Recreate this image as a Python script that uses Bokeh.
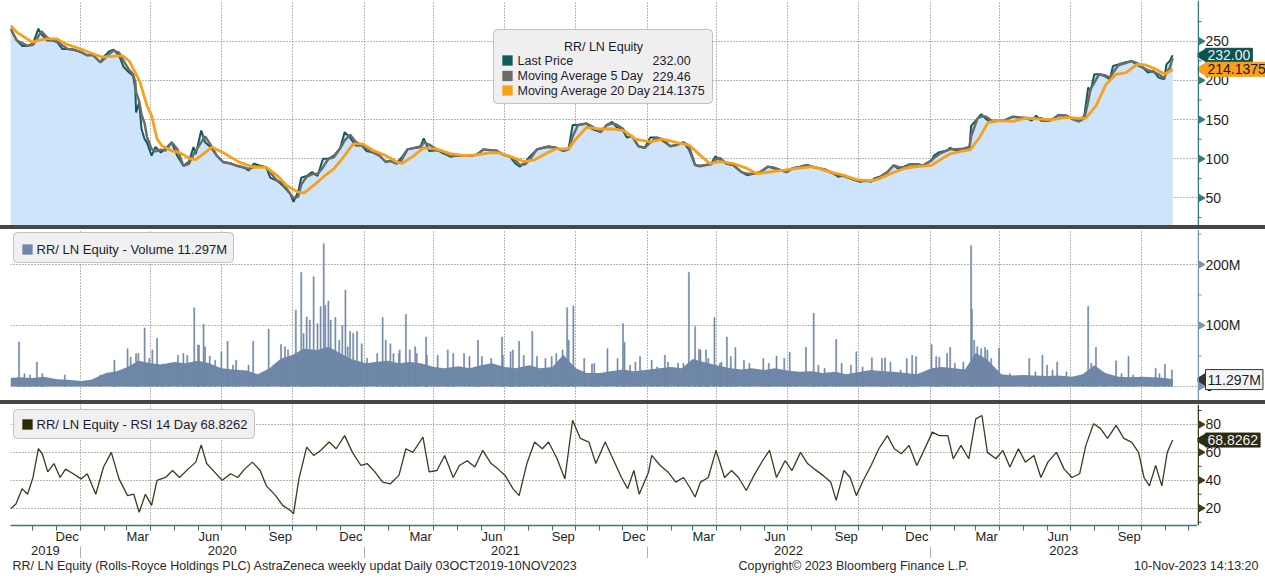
import math
import pandas as pd
from bokeh.plotting import figure
from bokeh.layouts import column, row
from bokeh.models import (Range1d, DatetimeAxis, FixedTicker, DatetimeTickFormatter,
                          BoxAnnotation, Label, Div, Span)
from bokeh.core.properties import value
from bokeh.embed import file_html
from bokeh.resources import INLINE

FONT = "Liberation Sans"

# ---------------- data ----------------
price_dates = (
    ["2019-10-03", "2019-10-11", "2019-10-18", "2019-10-25", "2019-11-01", "2019-11-08", "2019-11-12",
     "2019-11-19", "2019-11-25", "2019-12-02", "2019-12-09", "2019-12-16", "2019-12-23"] +
    ["2020-01-02", "2020-01-10", "2020-01-17", "2020-01-27", "2020-01-31", "2020-02-07", "2020-02-13",
     "2020-02-20", "2020-02-26", "2020-03-04", "2020-03-09", "2020-03-12", "2020-03-13", "2020-03-17",
     "2020-03-20", "2020-03-24", "2020-03-27", "2020-04-02", "2020-04-07", "2020-04-14", "2020-04-20",
     "2020-04-28", "2020-05-05", "2020-05-13", "2020-05-20", "2020-05-26", "2020-05-29", "2020-06-05",
     "2020-06-10", "2020-06-17", "2020-06-25", "2020-07-03", "2020-07-13", "2020-07-21", "2020-07-30",
     "2020-08-05", "2020-08-12", "2020-08-20", "2020-08-28", "2020-09-02", "2020-09-11", "2020-09-18",
     "2020-09-28", "2020-10-02", "2020-10-08", "2020-10-12", "2020-10-19", "2020-10-26", "2020-11-02",
     "2020-11-09", "2020-11-16", "2020-11-23", "2020-12-01", "2020-12-07", "2020-12-14", "2020-12-21",
     "2020-12-29"] +
    ["2021-01-04", "2021-01-13", "2021-01-21", "2021-01-29", "2021-02-04", "2021-02-12", "2021-02-18",
     "2021-02-26", "2021-03-08", "2021-03-15", "2021-03-19", "2021-03-26", "2021-04-06", "2021-04-13",
     "2021-04-22", "2021-04-30", "2021-05-10", "2021-05-18", "2021-05-26", "2021-06-04", "2021-06-14",
     "2021-06-21", "2021-06-30", "2021-07-08", "2021-07-15", "2021-07-21", "2021-07-28", "2021-08-03",
     "2021-08-12", "2021-08-20", "2021-08-27", "2021-09-06", "2021-09-15", "2021-09-22", "2021-09-27",
     "2021-10-04", "2021-10-15", "2021-10-22", "2021-11-02", "2021-11-10", "2021-11-17", "2021-11-23",
     "2021-11-30", "2021-12-06", "2021-12-13", "2021-12-21", "2021-12-29"] +
    ["2022-01-05", "2022-01-14", "2022-01-21", "2022-01-31", "2022-02-09", "2022-02-17", "2022-02-24",
     "2022-03-04", "2022-03-10", "2022-03-18", "2022-03-25", "2022-03-30", "2022-04-05", "2022-04-13",
     "2022-04-22", "2022-05-03", "2022-05-10", "2022-05-18", "2022-05-27", "2022-06-06", "2022-06-13",
     "2022-06-21", "2022-06-30", "2022-07-08", "2022-07-18", "2022-07-26", "2022-08-03", "2022-08-12",
     "2022-08-19", "2022-08-30", "2022-09-05", "2022-09-12", "2022-09-20", "2022-09-26", "2022-10-03",
     "2022-10-10", "2022-10-17", "2022-10-21", "2022-10-28", "2022-11-07", "2022-11-15", "2022-11-21",
     "2022-11-28", "2022-12-06", "2022-12-15", "2022-12-23"] +
    ["2023-01-03", "2023-01-06", "2023-01-13", "2023-01-23", "2023-01-27", "2023-02-03", "2023-02-13",
     "2023-02-21", "2023-02-23", "2023-03-03", "2023-03-08", "2023-03-14", "2023-03-21", "2023-03-29",
     "2023-04-06", "2023-04-18", "2023-04-26", "2023-05-05", "2023-05-12", "2023-05-18", "2023-05-24",
     "2023-06-02", "2023-06-08", "2023-06-16", "2023-06-26", "2023-07-04", "2023-07-12", "2023-07-19",
     "2023-07-24", "2023-07-27", "2023-08-01", "2023-08-07", "2023-08-14", "2023-08-21", "2023-08-25",
     "2023-09-01", "2023-09-08", "2023-09-18", "2023-09-25", "2023-10-03", "2023-10-09", "2023-10-16",
     "2023-10-23", "2023-10-30", "2023-11-02", "2023-11-06", "2023-11-10"]
)
price_values = (
    [266, 251, 244, 244, 247, 266, 259, 251, 251, 249, 240, 240, 239] +
    [236, 232, 233, 223, 230, 237, 239, 232, 217, 210, 206, 189, 159, 172, 138, 125, 121, 104, 115, 108,
     113, 121, 104, 91, 96, 115, 106, 136, 121, 115, 104, 96, 94, 91, 89, 85, 94, 91, 89, 76, 72, 66, 55,
     45, 58, 76, 78, 83, 78, 100, 100, 104, 113, 134, 127, 117, 117] +
    [110, 108, 104, 96, 98, 94, 101, 112, 114, 116, 126, 110, 111, 107, 103, 104, 104, 104, 105, 112, 111,
     110, 105, 103, 94, 90, 96, 103, 112, 114, 116, 114, 110, 114, 143, 143, 145, 138, 134, 143, 147, 140,
     138, 127, 129, 116, 114] +
    [127, 127, 123, 116, 118, 121, 112, 92, 90, 92, 94, 103, 99, 94, 92, 83, 79, 81, 83, 90, 88, 86, 83, 88,
     90, 92, 89.5, 87.5, 85, 81, 77, 79, 75, 72.6, 70.5, 72.6, 70.5, 75, 77, 83, 91.6, 87.5, 90, 93, 93, 91.6] +
    [98, 104, 108.5, 110.6, 114, 110.6, 112.7, 115, 142, 151, 157, 151, 146.5, 148.6, 148.6, 153.7, 152.8,
     152, 148.6, 155, 148.6, 148.6, 150.7, 156, 155, 150.7, 147.8, 155, 191, 186.6, 207.8, 207.8, 205.6,
     201.4, 218.3, 220.4, 222.5, 224.6, 219.6, 216, 210, 212, 203.5, 201.4, 220.4, 224.6, 232.00]
)

ma20_dates = ["2019-10-03", "2019-10-11", "2019-10-31", "2019-11-08", "2019-11-19", "2019-12-02", "2019-12-13",
              "2020-01-02", "2020-01-17", "2020-01-29", "2020-02-13", "2020-02-24", "2020-03-04", "2020-03-12",
              "2020-03-18", "2020-03-27", "2020-04-02", "2020-04-09", "2020-04-15", "2020-04-27", "2020-05-08",
              "2020-05-22", "2020-05-29", "2020-06-19", "2020-07-03", "2020-07-24", "2020-08-12", "2020-08-28",
              "2020-09-11", "2020-09-23", "2020-10-08", "2020-10-16", "2020-10-28", "2020-11-09", "2020-11-23",
              "2020-12-07", "2020-12-18", "2020-12-30", "2021-01-13", "2021-01-29", "2021-02-04", "2021-02-12",
              "2021-02-19", "2021-03-05", "2021-03-19", "2021-04-06", "2021-04-22", "2021-05-10", "2021-05-26",
              "2021-06-14", "2021-06-25", "2021-07-08", "2021-07-26", "2021-08-09", "2021-08-25", "2021-09-06",
              "2021-09-22", "2021-10-01", "2021-10-15", "2021-11-02", "2021-11-19", "2021-12-02", "2021-12-17",
              "2022-01-05", "2022-01-21", "2022-02-09", "2022-02-25", "2022-03-10", "2022-03-23", "2022-04-05",
              "2022-04-22", "2022-05-10", "2022-05-23", "2022-06-09", "2022-06-27", "2022-07-13", "2022-07-26",
              "2022-08-03", "2022-08-19", "2022-09-12", "2022-09-28", "2022-10-17", "2022-10-28", "2022-11-11",
              "2022-11-28", "2022-12-15", "2023-01-03", "2023-01-13", "2023-01-27", "2023-02-09", "2023-02-22",
              "2023-03-06", "2023-03-17", "2023-03-31", "2023-04-18", "2023-05-05", "2023-05-22", "2023-06-08",
              "2023-06-26", "2023-07-12", "2023-07-21", "2023-08-03", "2023-08-16", "2023-08-29", "2023-09-11",
              "2023-09-25", "2023-10-06", "2023-10-20", "2023-10-31", "2023-11-10"]
ma20_values = [270, 261.5, 248.7, 251, 253, 253, 246.6,
               240, 234, 229.6, 231, 231.7, 225, 210,
               197.7, 168, 155, 125.4, 117, 110.5, 108,
               100, 99, 114.8, 108, 95.7, 89, 89,
               78.6, 66, 57.4, 56.5, 66, 76.5, 87,
               104, 119, 119, 110.5, 104, 101, 96,
               94, 103, 114, 112, 106.6, 104, 105,
               108, 107.5, 103, 96.5, 98.7, 107.5, 112.7,
               112.7, 125, 140, 138, 138, 136, 125,
               121.5, 125, 120.6, 117, 105, 94, 96.5,
               94, 87.7, 81, 83.3, 85.5, 87.7, 89,
               90, 85, 79, 73.4, 71.7, 74.7, 81,
               87.3, 90, 91.6, 98, 106.4, 109.3, 111.4,
               127.5, 146.5, 148.6, 147.8, 152, 150.7, 150,
               152.8, 151.6, 152, 167.6, 195, 207.8, 210,
               220.4, 219.6, 214, 207.8, 214.1375]
ma5_last = 229.46

vol_dates = ["2019-10-03", "2019-10-15", "2019-11-01", "2019-11-15", "2019-12-02", "2019-12-16",
             "2020-01-02", "2020-01-15", "2020-02-03", "2020-02-17", "2020-03-02", "2020-03-16",
             "2020-04-01", "2020-04-15", "2020-05-01", "2020-05-15", "2020-06-01", "2020-06-15",
             "2020-07-01", "2020-07-15", "2020-08-03", "2020-08-17", "2020-09-01", "2020-09-15",
             "2020-10-01", "2020-10-15", "2020-11-02", "2020-11-16", "2020-12-01", "2020-12-15",
             "2021-01-04", "2021-01-15", "2021-02-01", "2021-02-15", "2021-03-01", "2021-03-15",
             "2021-04-01", "2021-04-15", "2021-05-03", "2021-05-17", "2021-06-01", "2021-06-15",
             "2021-07-01", "2021-07-15", "2021-08-02", "2021-08-16", "2021-09-01", "2021-09-15",
             "2021-10-01", "2021-10-15", "2021-11-01", "2021-11-15", "2021-12-01", "2021-12-15",
             "2022-01-04", "2022-01-17", "2022-02-01", "2022-02-15", "2022-03-01", "2022-03-15",
             "2022-04-01", "2022-04-19", "2022-05-03", "2022-05-16", "2022-06-01", "2022-06-15",
             "2022-07-01", "2022-07-15", "2022-08-01", "2022-08-15", "2022-09-01", "2022-09-15",
             "2022-10-03", "2022-10-17", "2022-11-01", "2022-11-15", "2022-12-01", "2022-12-15",
             "2023-01-03", "2023-01-16", "2023-02-01", "2023-02-15", "2023-03-01", "2023-03-15",
             "2023-04-03", "2023-04-17", "2023-05-02", "2023-05-15", "2023-06-01", "2023-06-15",
             "2023-07-03", "2023-07-17", "2023-08-01", "2023-08-15", "2023-09-01", "2023-09-15",
             "2023-10-02", "2023-10-16", "2023-11-01", "2023-11-10"]
vol_values = [14, 15, 14, 16, 12, 11,
              9, 11, 22, 25, 32, 42,
              38, 36, 40, 38, 42, 38,
              30, 28, 26, 20, 30, 45,
              52, 62, 60, 65, 55, 45,
              38, 40, 42, 38, 40, 38,
              32, 30, 33, 30, 35, 38,
              32, 30, 35, 30, 32, 52,
              30, 22, 22, 25, 28, 25,
              28, 30, 32, 30, 45, 40,
              35, 30, 28, 30, 27, 30,
              26, 24, 25, 22, 24, 20,
              24, 27, 25, 24, 22, 20,
              30, 32, 30, 28, 55, 45,
              20, 18, 19, 18, 17, 18,
              16, 20, 35, 22, 16, 15,
              16, 15, 14, 11.297]

spike_dates = ["2019-10-14", "2019-11-06", "2020-02-14", "2020-03-02", "2020-03-13", "2020-03-24", "2020-04-03",
               "2020-04-09", "2020-05-06", "2020-05-27", "2020-06-02", "2020-06-08", "2020-06-16", "2020-07-09",
               "2020-08-11", "2020-08-31", "2020-09-16", "2020-10-05", "2020-10-12", "2020-10-19", "2020-10-28",
               "2020-11-10", "2020-11-16", "2020-11-25", "2020-12-08", "2020-12-14", "2020-12-23", "2021-01-25",
               "2021-02-04", "2021-02-15", "2021-02-24", "2021-03-08", "2021-03-22", "2021-04-19", "2021-05-10",
               "2021-05-28", "2021-06-28", "2021-07-12", "2021-07-20", "2021-08-06", "2021-08-31", "2021-09-20",
               "2021-09-28", "2021-10-22", "2021-11-11", "2021-12-01", "2021-12-03", "2021-12-23", "2022-01-24",
               "2022-02-24", "2022-03-04", "2022-03-09", "2022-03-18", "2022-03-29", "2022-04-14", "2022-04-25",
               "2022-06-17", "2022-07-04", "2022-07-25", "2022-08-04", "2022-09-02", "2022-09-28", "2022-10-18",
               "2022-11-04", "2022-12-02", "2023-01-03", "2023-01-23", "2023-01-27", "2023-02-23", "2023-02-24",
               "2023-02-27", "2023-03-13", "2023-03-31", "2023-05-09", "2023-05-26", "2023-06-14", "2023-07-24",
               "2023-08-03", "2023-08-29", "2023-09-14", "2023-10-31", "2023-11-09"]
spike_values = [73, 40, 43, 62, 54, 96, 60,
                79, 51, 129, 68, 102, 50, 74,
                74, 94, 69, 125, 187, 114, 180,
                234, 140, 113, 158, 90, 90, 113,
                70, 54, 118, 65, 81, 60, 54,
                76, 81, 60, 74, 90, 49, 129,
                132, 37, 62, 103, 72, 49, 51,
                187, 98, 61, 60, 113, 81, 64,
                50, 56, 64, 120, 77, 57, 47,
                47, 46, 69, 54, 64, 231, 127,
                76, 64, 63, 46, 51, 40, 131,
                64, 42, 49, 36, 27]

mid_dates = ["2019-10-21", "2019-10-28", "2019-11-13", "2019-12-12", "2020-01-27", "2020-03-06", "2020-03-16",
             "2020-03-30", "2020-04-16", "2020-04-24", "2020-05-13", "2020-05-18", "2020-06-01", "2020-06-10",
             "2020-06-23", "2020-07-01", "2020-07-16", "2020-07-20", "2020-08-05", "2020-09-21", "2020-09-25",
             "2020-10-15", "2020-10-23", "2020-11-02", "2020-11-06", "2020-11-12", "2020-11-19", "2020-11-30",
             "2020-12-04", "2020-12-11", "2020-12-18", "2020-12-29", "2021-01-05", "2021-01-18", "2021-01-29",
             "2021-02-08", "2021-02-16", "2021-03-01", "2021-03-10", "2021-03-23", "2021-04-06", "2021-04-26",
             "2021-05-17", "2021-06-02", "2021-06-14", "2021-06-29", "2021-07-09", "2021-07-26", "2021-08-12",
             "2021-08-23", "2021-09-06", "2021-09-14", "2021-09-22", "2021-10-12", "2021-10-25", "2021-10-29",
             "2021-11-24", "2021-12-10", "2021-12-17", "2022-01-07", "2022-01-14", "2022-01-28", "2022-02-10",
             "2022-02-17", "2022-03-11", "2022-03-21", "2022-04-05", "2022-04-07", "2022-04-19", "2022-05-06",
             "2022-05-13", "2022-05-31", "2022-06-07", "2022-06-27", "2022-07-12", "2022-08-10", "2022-08-18",
             "2022-09-09", "2022-09-21", "2022-10-06", "2022-10-31", "2022-11-11", "2022-11-24", "2022-12-09",
             "2022-12-14", "2023-01-09", "2023-01-13", "2023-02-02", "2023-02-13", "2023-03-03", "2023-03-08",
             "2023-03-16", "2023-03-21", "2023-04-14", "2023-05-17", "2023-06-01", "2023-06-08", "2023-06-26",
             "2023-07-17", "2023-07-28", "2023-08-14", "2023-09-05", "2023-09-20", "2023-10-19", "2023-10-24"]
mid_values = [21, 19, 21, 19, 19, 48, 54,
              46, 37, 38, 54, 51, 68, 65,
              43, 57, 35, 43, 35, 65, 60,
              87, 109, 103, 131, 133, 109, 76,
              100, 65, 87, 70, 46, 54, 76,
              54, 60, 60, 54, 51, 51, 54,
              49, 49, 46, 51, 57, 51, 49,
              46, 54, 60, 76, 46, 38, 21,
              46, 35, 40, 43, 32, 40, 38,
              38, 60, 46, 38, 40, 49, 43,
              38, 46, 38, 46, 24, 35, 30,
              38, 35, 32, 46, 40, 27, 51,
              49, 49, 48, 38, 40, 65, 62,
              60, 46, 21, 24, 35, 27, 24,
              19, 38, 21, 21, 19, 30, 21]

rsi_dates = (
    ["2019-10-03", "2019-10-10", "2019-10-18", "2019-10-25", "2019-11-01", "2019-11-08", "2019-11-13",
     "2019-11-20", "2019-11-28", "2019-12-06", "2019-12-13", "2019-12-23"] +
    ["2020-01-02", "2020-01-10", "2020-01-21", "2020-01-31", "2020-02-10", "2020-02-20", "2020-03-02",
     "2020-03-10", "2020-03-17", "2020-03-25", "2020-04-02", "2020-04-09", "2020-04-20", "2020-04-29",
     "2020-05-08", "2020-05-19", "2020-05-29", "2020-06-05", "2020-06-12", "2020-06-22", "2020-07-02",
     "2020-07-13", "2020-07-22", "2020-07-31", "2020-08-10", "2020-08-20", "2020-08-28", "2020-09-09",
     "2020-09-18", "2020-09-28", "2020-10-02", "2020-10-09", "2020-10-19", "2020-10-28", "2020-11-06",
     "2020-11-17", "2020-11-26", "2020-12-07", "2020-12-17", "2020-12-28"] +
    ["2021-01-05", "2021-01-15", "2021-01-25", "2021-02-04", "2021-02-15", "2021-02-24", "2021-03-05",
     "2021-03-18", "2021-03-26", "2021-04-05", "2021-04-15", "2021-04-26", "2021-05-04", "2021-05-14",
     "2021-05-24", "2021-06-03", "2021-06-14", "2021-06-23", "2021-07-02", "2021-07-12", "2021-07-20",
     "2021-07-30", "2021-08-09", "2021-08-19", "2021-08-27", "2021-09-07", "2021-09-17", "2021-09-27",
     "2021-10-07", "2021-10-18", "2021-10-27", "2021-11-08", "2021-11-18", "2021-11-29", "2021-12-07",
     "2021-12-15", "2021-12-22"] +
    ["2022-01-03", "2022-01-07", "2022-01-18", "2022-01-28", "2022-02-07", "2022-02-17", "2022-02-25",
     "2022-03-04", "2022-03-11", "2022-03-21", "2022-03-31", "2022-04-11", "2022-04-20", "2022-04-29",
     "2022-05-09", "2022-05-19", "2022-05-30", "2022-06-08", "2022-06-17", "2022-06-28", "2022-07-07",
     "2022-07-18", "2022-07-27", "2022-08-05", "2022-08-16", "2022-08-26", "2022-09-02", "2022-09-12",
     "2022-09-20", "2022-09-28", "2022-10-07", "2022-10-17", "2022-10-27", "2022-11-07", "2022-11-16",
     "2022-11-25", "2022-12-05", "2022-12-15", "2022-12-23"] +
    ["2023-01-04", "2023-01-13", "2023-01-24", "2023-01-31", "2023-02-10", "2023-02-20", "2023-03-01",
     "2023-03-09", "2023-03-16", "2023-03-27", "2023-04-05", "2023-04-14", "2023-04-25", "2023-05-04",
     "2023-05-15", "2023-05-24", "2023-06-02", "2023-06-13", "2023-06-23", "2023-07-03", "2023-07-13",
     "2023-07-21", "2023-07-31", "2023-08-09", "2023-08-18", "2023-08-29", "2023-09-08", "2023-09-18",
     "2023-09-27", "2023-10-04", "2023-10-11", "2023-10-19", "2023-10-27", "2023-11-03", "2023-11-10"]
)
rsi_values = (
    [19.6, 23, 34, 30, 42, 62.6, 59, 46, 52, 42, 48, 44.7] +
    [41, 44.7, 30, 49.5, 60, 41, 29, 30, 17, 30, 22, 40, 42, 47, 42, 48, 53, 65.4, 52, 46, 40, 44.7, 42,
     48, 53, 47, 36, 29, 22, 18.4, 16, 41, 63.8, 57.8, 61.4, 67.4, 62.6, 72, 60, 50.6] +
    [52, 46, 38.7, 37.5, 43.5, 62.6, 60, 71, 46, 47, 57.8, 42, 50.6, 54, 49.5, 61.4, 52, 48, 43.5, 34, 29,
     52, 67.4, 62.6, 67.4, 55.4, 41, 83, 70, 67.4, 52, 67.4, 55.4, 42, 34, 47, 30] +
    [46, 57.8, 50.6, 46, 38.7, 42, 35, 28, 38.7, 42, 61.4, 42, 47, 42, 32.7, 43.5, 54, 61.4, 42, 54, 47,
     60, 52, 48, 43.5, 38.7, 25.6, 47, 42, 29, 40, 50.6, 62.6, 72, 62.6, 59, 65, 50.6, 60] +
    [74.5, 72, 72, 55.4, 65, 55.4, 84, 86.4, 60, 55.4, 61.4, 49.5, 62.6, 53, 57.8, 42, 53, 60, 48, 42,
     44.7, 65, 80.5, 77, 70, 79.3, 70, 67.4, 60, 42, 36, 50.6, 36, 60, 68.8262]
)

price_ticks = [50, 100, 150, 200, 250]
price_minor = [25, 75, 125, 175, 225, 275]
price_tick_labels = ["50", "100", "150", "200", "250"]
vol_ticks = [0, 100, 200]
vol_minor = [50, 150, 250]
vol_tick_labels = ["0", "100M", "200M"]
rsi_ticks = [20, 40, 60, 80]
rsi_minor = [10, 30, 50, 70, 90]
rsi_tick_labels = ["20", "40", "60", "80"]

assert len(price_dates) == len(price_values)
assert len(ma20_dates) == len(ma20_values)
assert len(vol_dates) == len(vol_values)
assert len(spike_dates) == len(spike_values)
assert len(mid_dates) == len(mid_values)
assert len(rsi_dates) == len(rsi_values)

# ---------------- derived ----------------
price_x = pd.to_datetime(price_dates)
ma20_x = pd.to_datetime(ma20_dates)
vol_x = pd.to_datetime(vol_dates)
bar_x = pd.to_datetime(spike_dates + mid_dates)
bar_top = spike_values + mid_values
rsi_x = pd.to_datetime(rsi_dates)
ma5 = pd.Series(price_values, index=price_x).rolling("8D").mean()


def ms(t):
    return pd.Timestamp(t).value / 1e6


x_start = pd.Timestamp("2019-10-03")
x_end = pd.Timestamp("2023-12-12")
xr = Range1d(start=x_start, end=x_end)

quarter_ticks = [ms(t) for t in pd.date_range("2020-01-01", "2023-10-01", freq="QS")]
month_starts = pd.date_range("2019-10-01", "2023-12-01", freq="MS")
month_minor = [ms(t) for t in month_starts]
month_labels = [ms(t + pd.Timedelta(days=14)) for t in month_starts if t.month in (3, 6, 9, 12)]
year_mid = []
for yr in range(2019, 2024):
    a = max(pd.Timestamp(f"{yr}-01-01"), x_start)
    b = min(pd.Timestamp(f"{yr + 1}-01-01"), x_end)
    year_mid.append(ms(a + (b - a) / 2))
year_seps = [ms(pd.Timestamp(f"{yr}-01-01")) for yr in range(2020, 2024)]

W_MAIN = 1197
W_AX = 68
W = W_MAIN + W_AX
GRID = "#6e6e6e"
TEAL = "#0f5c5c"
GRAY = "#6b6b6b"
ORANGE = "#f7a11b"
VOL = "#6f87a8"
RSI = "#3b3b20"
TXT = "#1c1c30"


def make_fig(height, yr, ticks, bottom=0, xaxis=False):
    kw = dict(width=W_MAIN, height=height, x_range=xr, y_range=yr, x_axis_type="datetime",
              y_axis_location=None, output_backend="svg", toolbar_location=None,
              min_border_left=10, min_border_right=0, min_border_top=0, min_border_bottom=bottom)
    if not xaxis:
        kw["x_axis_location"] = None
    p = figure(**kw)
    p.outline_line_color = None
    p.background_fill_color = "white"
    p.border_fill_color = "white"
    p.ygrid.ticker = FixedTicker(ticks=ticks)
    p.ygrid.grid_line_color = GRID
    p.ygrid.grid_line_dash = "1 2"
    p.xgrid.ticker = FixedTicker(ticks=quarter_ticks)
    p.xgrid.grid_line_color = GRID
    p.xgrid.grid_line_dash = "1 2"
    return p


def axis_fig(height, yr, color, ticks, minor, labels, bottom=0):
    a = figure(width=W_AX, height=height, x_range=Range1d(0, W_AX), y_range=yr,
               x_axis_location=None, y_axis_location=None, output_backend="svg",
               toolbar_location=None, min_border_left=0, min_border_right=0,
               min_border_top=0, min_border_bottom=bottom)
    a.grid.visible = False
    a.outline_line_color = None
    a.border_fill_color = "white"
    a.add_layout(Span(location=0.75, dimension="height", line_color=color, line_width=1.5))
    a.segment(x0=0, x1=4, y0=minor, y1=minor, line_color=color, line_width=1)
    a.scatter(x=[3.5] * len(ticks), y=ticks, marker="triangle", angle=-math.pi / 2, size=7,
              fill_color=color, line_color=color)
    a.text(x=[8] * len(ticks), y=ticks, text=labels, text_font=value(FONT), text_font_size="14px",
           text_baseline="middle", text_color="#1e1e1e")
    return a


def value_box(a, y, text, fill, color, border=None):
    a.scatter(x=[4.5], y=[y], marker="triangle", angle=math.pi / 2, size=12,
              fill_color=border or fill, line_color=border or fill)
    a.add_layout(Label(x=8, y=y, text=text, text_font=FONT, text_font_size="14px", text_color=color,
                       text_align="left", text_baseline="middle", padding=2,
                       background_fill_color=fill, background_fill_alpha=1,
                       border_line_color=border or fill, level="overlay"))


def sbox(p, l, r, b, t, fill, line="#4a4a4a", radius=0):
    p.add_layout(BoxAnnotation(left=l, right=r, bottom=b, top=t, left_units="screen",
                               right_units="screen", bottom_units="screen", top_units="screen",
                               fill_color=fill, fill_alpha=1, line_color=line, line_width=1,
                               border_radius=radius, level="overlay"))


def stext(p, x, y, text, size="12.5px", color=TXT, align="left"):
    p.add_layout(Label(x=x, y=y, x_units="screen", y_units="screen", text=text,
                       text_font=FONT, text_font_size=size, text_color=color,
                       text_align=align, text_baseline="middle", level="overlay"))


# ---------------- panel 1: price ----------------
yr1 = Range1d(14.9, 301.9)
p1 = make_fig(225, yr1, price_ticks)
p1.varea(x=price_x, y1=0, y2=price_values, fill_color="#cde4fa")
p1.line(price_x, price_values, line_color=TEAL, line_width=2)
p1.line(ma5.index, ma5.values, line_color=GRAY, line_width=2.5)
p1.line(ma20_x, ma20_values, line_color=ORANGE, line_width=2.8)

sbox(p1, 483, 702, 122, 196, "#efefef", radius=4)
stext(p1, 593, 179, "RR/ LN Equity", align="center")
rows = [("Last Price", TEAL, f"{price_values[-1]:.2f}", 165),
        ("Moving Average 5 Day", GRAY, f"{ma5_last:.2f}", 149.5),
        ("Moving Average 20 Day", ORANGE, f"{ma20_values[-1]:.4f}", 135)]
for name, col, val, yy in rows:
    sbox(p1, 492, 502, yy - 5, yy + 5, col, line=col)
    stext(p1, 507, yy, name)
    stext(p1, 642, yy, val)

a1 = axis_fig(225, yr1, "#2e7d7a", price_ticks, price_minor, price_tick_labels)
value_box(a1, price_values[-1], f"{price_values[-1]:.2f}", "#0f5050", "#e8f4f4")
value_box(a1, ma20_values[-1], f"{ma20_values[-1]:.4f}", ORANGE, "#1a1a1a")

# ---------------- panel 2: volume ----------------
yr2 = Range1d(-23, 257.4)
p2 = make_fig(171, yr2, vol_ticks)
p2.varea(x=vol_x, y1=0, y2=vol_values, fill_color=VOL)
p2.vbar(x=bar_x, top=bar_top, bottom=0, width=1.3 * 86400000, fill_color=VOL, line_color=VOL,
        line_width=0.6)
sbox(p2, 3, 223, 138, 168, "#f0f0f0", radius=4)
sbox(p2, 12, 22, 146, 156, VOL, line=VOL)
stext(p2, 26, 151, f"RR/ LN Equity - Volume {vol_values[-1]:.3f}M", size="13px")

a2 = axis_fig(171, yr2, "#7b93b5", vol_ticks, vol_minor, vol_tick_labels)
value_box(a2, vol_values[-1], f"{vol_values[-1]:.3f}M", "#f3f4f7", "#1e1e1e", border="#333333")

# ---------------- panel 3: RSI ----------------
yr3 = Range1d(7.6, 94.3)
p3 = make_fig(154, yr3, rsi_ticks, bottom=33, xaxis=True)
p3.line(rsi_x, rsi_values, line_color=RSI, line_width=1.3)
sbox(p3, 3, 244, 87, 116, "#f0f0f0", radius=4)
sbox(p3, 12, 22, 96, 106, "#2a2a05", line="#2a2a05")
stext(p3, 26, 101, f"RR/ LN Equity - RSI 14 Day {rsi_values[-1]:.4f}", size="13px")

xa = p3.xaxis[0]
xa.ticker = FixedTicker(ticks=month_labels, minor_ticks=month_minor)
xa.formatter = DatetimeTickFormatter(days="%b", months="%b", years="%b")
xa.axis_line_color = "#2e7d7a"
xa.axis_line_width = 1.5
xa.major_tick_out = 0
xa.major_tick_in = 0
xa.minor_tick_out = 5
xa.minor_tick_in = 0
xa.minor_tick_line_color = "#2e7d7a"
xa.major_label_text_font = FONT
xa.major_label_text_font_size = "13px"
xa.major_label_text_color = "#1e1e1e"
xa.major_label_standoff = -2

ya = DatetimeAxis(ticker=FixedTicker(ticks=year_mid, minor_ticks=year_seps),
                  formatter=DatetimeTickFormatter(days="%Y", months="%Y", years="%Y"))
ya.axis_line_color = None
ya.major_tick_line_color = None
ya.minor_tick_line_color = "#b0b0b0"
ya.minor_tick_out = 16
ya.minor_tick_in = 0
ya.major_label_text_font = FONT
ya.major_label_text_font_size = "13px"
ya.major_label_text_color = "#1e1e1e"
ya.major_label_standoff = -17
p3.add_layout(ya, "below")

a3 = axis_fig(154, yr3, RSI, rsi_ticks, rsi_minor, rsi_tick_labels, bottom=33)
value_box(a3, rsi_values[-1], f"{rsi_values[-1]:.4f}", "#2b2b12", "#f0f0f0")

# ---------------- footer ----------------
foot = figure(width=W, height=20, x_range=Range1d(0, W), y_range=Range1d(0, 20),
              x_axis_location=None, y_axis_location=None, output_backend="svg",
              toolbar_location=None, min_border=0)
foot.grid.visible = False
foot.outline_line_color = None
foot.text(x=[12, 738], y=[13, 13],
          text=["RR/ LN Equity (Rolls-Royce Holdings PLC) AstraZeneca weekly updat  Daily 03OCT2019-10NOV2023",
                "Copyright\u00a9 2023 Bloomberg Finance L.P."],
          text_font=value(FONT), text_font_size="12.5px", text_color="#2a2a2a", text_baseline="middle")
foot.text(x=[1258], y=[13], text=["10-Nov-2023 14:13:20"], text_font=value(FONT),
          text_font_size="12.5px", text_color="#2a2a2a", text_baseline="middle", text_align="right")

handle = ('<div style="width:1265px;height:4px;position:relative">'
          '<div style="position:absolute;left:626px;top:1px;width:14px;height:2px;background:#9a9a9a"></div></div>')
sep1 = Div(text=handle, width=W, height=4, margin=0, styles={"background-color": "#474747"})
sep2 = Div(text=handle, width=W, height=4, margin=0, styles={"background-color": "#474747"})

layout = column(row(p1, a1), sep1, row(p2, a2), sep2, row(p3, a3), foot)
open("out.html", "w").write(file_html(layout, INLINE))
